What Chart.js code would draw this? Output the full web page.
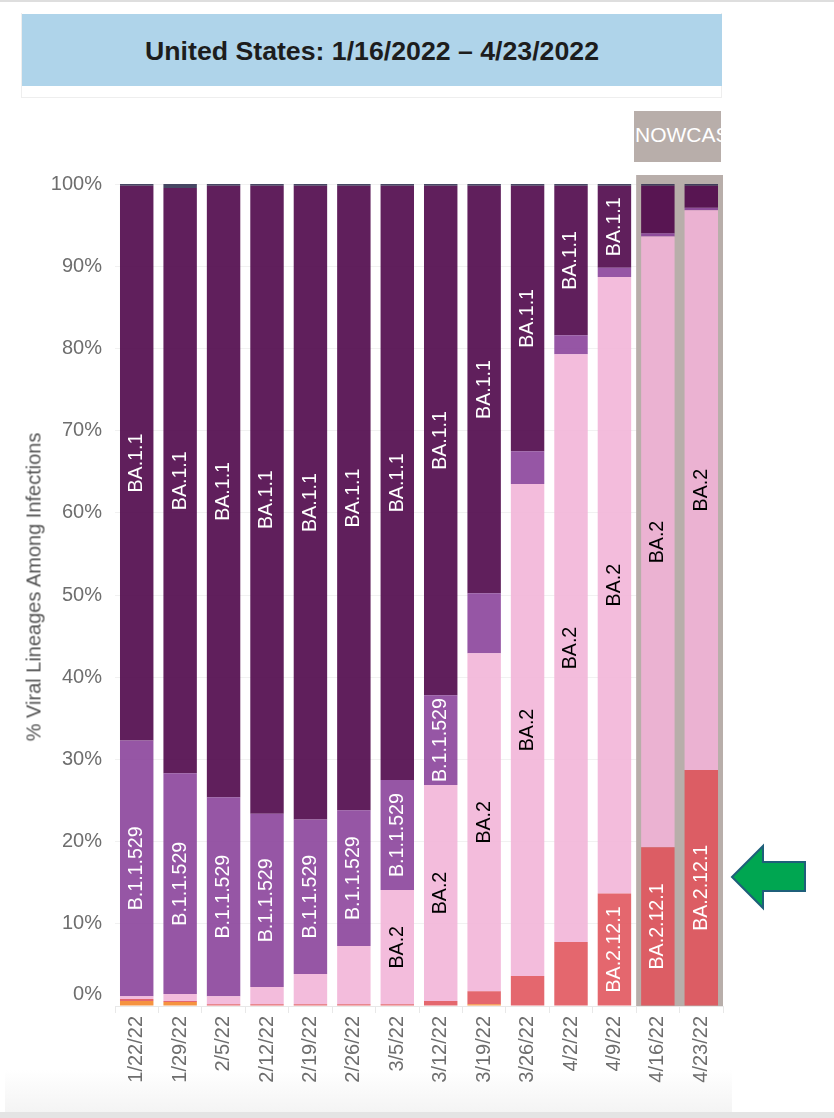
<!DOCTYPE html>
<html>
<head>
<meta charset="utf-8">
<script src="https://cdn.jsdelivr.net/npm/chart.js@4"></script>
<style>
  html, body { margin: 0; padding: 0; background: #fff; }
  body { position: relative; width: 834px; height: 1118px; overflow: hidden; font-family: "Liberation Sans", Arial, sans-serif; }
  #topline { position: absolute; left: 0; top: 0; width: 834px; height: 2px; background: #dedede; }
  #fade { position: absolute; left: 5px; top: 1070px; width: 727px; height: 42px; background: linear-gradient(#fff, #f4f4f4); }
  #bottomline { position: absolute; left: 0; top: 1112px; width: 834px; height: 6px; background: #e4e4e4; }
  #frame { position: absolute; left: 21px; top: 13px; width: 701px; height: 85px; border: 1px solid #eee; border-top: none; box-sizing: border-box; }
  #title { position: absolute; left: 22px; top: 14px; width: 700px; height: 72px; line-height: 74px; background: #afd4ea; color: #1d1d1d; text-align: center; font-weight: bold; font-size: 26.7px; }
  #nowcast { position: absolute; left: 634px; top: 111px; width: 87px; height: 51px; line-height: 48px; background: #b8aeaa; color: #fff; font-size: 21px; overflow: hidden; white-space: nowrap; text-align: left; padding-left: 1px; box-sizing: border-box; }
  #ylabel { position: absolute; left: 34px; top: 587px; color: #555; font-size: 20px; white-space: nowrap; transform: translate(-50%, -50%) rotate(-90deg); }
  #chart { position: absolute; left: 0; top: 0; }
  #arrow { position: absolute; left: 725px; top: 840px; }
</style>
</head>
<body>
<div id="topline"></div>
<div id="fade"></div>
<div id="bottomline"></div>
<div id="frame"></div>
<div id="title">United States: 1/16/2022 – 4/23/2022</div>
<div id="nowcast">NOWCAST</div>
<canvas id="chart" width="834" height="1118"></canvas>
<div id="ylabel">% Viral Lineages Among Infections</div>
<svg id="arrow" width="90" height="75">
  <polygon points="7,37 38,6 38,22 80,22 80,51 38,51 38,68" fill="#00a651" stroke="#1f5f7a" stroke-width="2"></polygon>
</svg>
<script>
const weeks = ['1/22/22', '1/29/22', '2/5/22', '2/12/22', '2/19/22', '2/26/22', '3/5/22', '3/12/22', '3/19/22', '3/26/22', '4/2/22', '4/9/22', '4/16/22', '4/23/22'];
const yTicks = [0, 10, 20, 30, 40, 50, 60, 70, 80, 90, 100];

// shares per week, bottom of the stack first
const delta = [0.6, 0.5, 0, 0, 0, 0, 0, 0, 0.2, 0, 0, 0, 0, 0];
const ba2121 = [0.25, 0.1, 0.2, 0.2, 0.2, 0.2, 0.2, 0.6, 1.6, 3.65, 7.8, 13.7, 19.3, 28.7];
const ba2 = [0.35, 0.85, 1.0, 2.1, 3.7, 7.1, 13.9, 26.3, 41.1, 59.85, 71.5, 75.0, 74.3, 68.1];
const b11529 = [31.1, 26.85, 24.2, 21.1, 18.8, 16.5, 13.4, 10.9, 7.3, 4.0, 2.3, 1.1, 0.4, 0.3];
const ba11 = [67.5, 71.2, 74.4, 76.4, 77.1, 76.0, 72.3, 62.0, 49.6, 32.3, 18.2, 10.0, 5.8, 2.7];
const other = [0.2, 0.5, 0.2, 0.2, 0.2, 0.2, 0.2, 0.2, 0.2, 0.2, 0.2, 0.2, 0.2, 0.2];

const nowcastWeeks = 2;
const minLabelHeight = 80;

// white labels on the dark segments, black on the pale BA.2
const segmentLabels = {
  id: 'segmentLabels',
  afterDatasetsDraw(chart) {
    const ctx = chart.ctx;
    ctx.save();
    ctx.font = '19.6px "Liberation Sans", Arial, sans-serif';
    ctx.textAlign = 'center';
    ctx.textBaseline = 'middle';
    chart.data.datasets.forEach((ds, i) => {
      if (!ds.showLabel) return;
      chart.getDatasetMeta(i).data.forEach(bar => {
        const h = Math.abs(bar.base - bar.y);
        if (h < minLabelHeight) return;
        ctx.save();
        ctx.translate(bar.x, (bar.base + bar.y) / 2);
        ctx.rotate(-Math.PI / 2);
        ctx.fillStyle = ds.labelColor;
        ctx.fillText(ds.label, 0, 0);
        ctx.restore();
      });
    });
    ctx.restore();
  }
};

// grey band behind the nowcast weeks
const nowcastBand = {
  id: 'nowcastBand',
  beforeDatasetsDraw(chart) {
    const { ctx, scales: { x, y } } = chart;
    const step = x.getPixelForValue(1) - x.getPixelForValue(0);
    const first = x.getPixelForValue(weeks.length - nowcastWeeks) - step / 2;
    ctx.save();
    ctx.fillStyle = '#b8aeaa';
    ctx.fillRect(first, y.top - 9, x.right - first, y.bottom - y.top + 9);
    ctx.restore();
  }
};

new Chart(document.getElementById('chart'), {
  type: 'bar',
  data: {
    labels: weeks,
    datasets: [
      { label: 'Delta', data: delta, backgroundColor: 'rgba(244,132,37,.88)' },
      { label: 'BA.2.12.1', data: ba2121, backgroundColor: 'rgba(224,82,90,.88)', showLabel: true, labelColor: '#fff' },
      { label: 'BA.2', data: ba2, backgroundColor: 'rgba(241,179,215,.88)', showLabel: true, labelColor: '#000' },
      { label: 'B.1.1.529', data: b11529, backgroundColor: 'rgba(136,63,153,.88)', showLabel: true, labelColor: '#fff' },
      { label: 'BA.1.1', data: ba11, backgroundColor: 'rgba(74,0,70,.88)', showLabel: true, labelColor: '#fff' },
      { label: 'Other', data: other, backgroundColor: 'rgba(45,45,79,.88)' }
    ]
  },
  options: {
    responsive: false,
    animation: false,
    layout: { padding: { top: 184, right: 111, bottom: 0, left: 0 } },
    datasets: { bar: { barPercentage: 0.77, categoryPercentage: 1 } },
    plugins: { legend: { display: false }, tooltip: { enabled: false } },
    scales: {
      x: {
        stacked: true,
        afterFit: s => { s.height = 112; },
        border: { color: '#e8e8e8' },
        grid: { drawOnChartArea: false, color: '#e8e8e8', tickLength: 7 },
        ticks: { minRotation: 90, maxRotation: 90, autoSkip: false, color: '#6e6e6e', padding: 3, font: { family: '"Liberation Sans", Arial, sans-serif', size: 20 } }
      },
      y: {
        stacked: true,
        min: 0,
        max: 100,
        afterFit: s => { s.width = 115; },
        afterBuildTicks: s => { s.ticks = yTicks.map(value => ({ value })); },
        border: { display: false },
        grid: { color: '#f1f1f1', drawTicks: false },
        // the 0% label sits above its gridline in the original
        ticks: { color: '#6e6e6e', padding: 13, font: { family: '"Liberation Sans", Arial, sans-serif', size: 20 },
          callback: v => v === 0 ? ['0%', ''] : v + '%' }
      }
    }
  },
  plugins: [nowcastBand, segmentLabels]
});
</script>
</body>
</html>
